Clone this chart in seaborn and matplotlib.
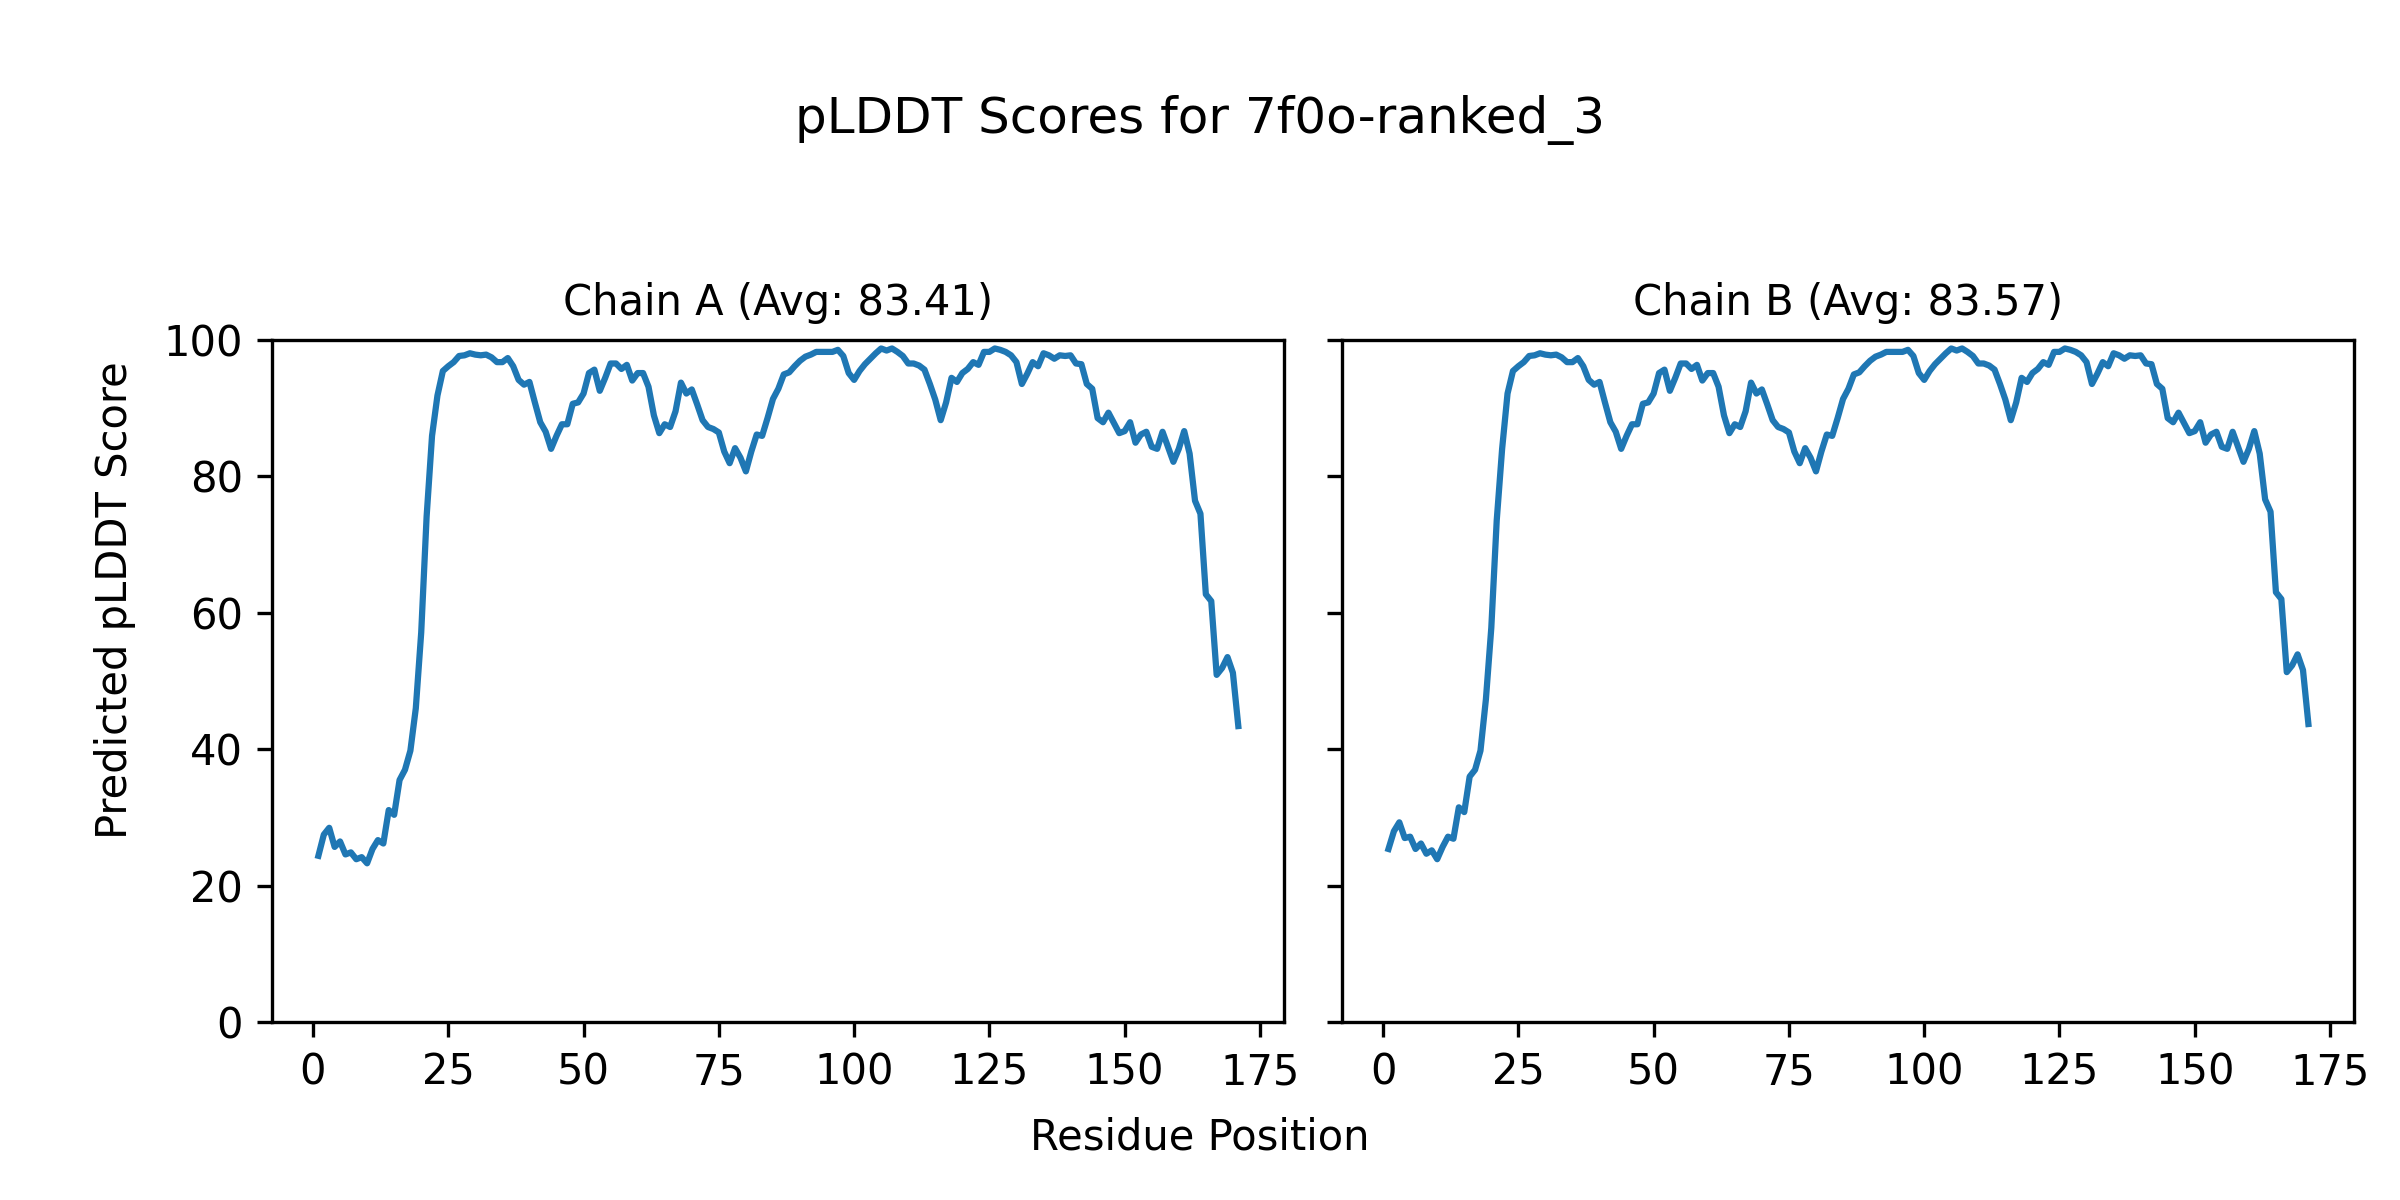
import matplotlib
matplotlib.use("Agg")
import matplotlib.pyplot as plt
import seaborn as sns
import pandas as pd
import numpy as np

residues = list(range(1, 172))

chain_a = [
    24.4, 27.5, 28.5, 25.7, 26.5, 24.6, 24.9, 23.9, 24.2, 23.3,
    25.4, 26.7, 26.2, 31.1, 30.4, 35.5, 37.0, 39.8, 46.0, 57.1,
    74.1, 85.9, 91.8, 95.4, 96.1, 96.7, 97.6, 97.7, 98.0, 97.8,
    97.7, 97.8, 97.4, 96.7, 96.7, 97.3, 96.1, 94.1, 93.4, 93.8,
    90.8, 87.9, 86.5, 84.0, 85.9, 87.6, 87.6, 90.6, 90.8, 92.1,
    95.1, 95.6, 92.5, 94.4, 96.5, 96.5, 95.7, 96.3, 94.0, 95.1,
    95.1, 93.1, 88.9, 86.3, 87.6, 87.2, 89.5, 93.7, 92.1, 92.7,
    90.5, 88.2, 87.2, 86.9, 86.4, 83.6, 81.9, 84.1, 82.7, 80.7,
    83.6, 86.1, 85.9, 88.5, 91.3, 92.8, 94.9, 95.2, 96.1, 96.9,
    97.5, 97.8, 98.2, 98.2, 98.2, 98.2, 98.5, 97.6, 95.1, 94.1,
    95.4, 96.4, 97.2, 98.0, 98.7, 98.4, 98.7, 98.2, 97.6, 96.5,
    96.5, 96.2, 95.6, 93.5, 91.2, 88.2, 90.8, 94.4, 93.8, 95.1,
    95.7, 96.7, 96.3, 98.2, 98.2, 98.7, 98.5, 98.2, 97.7, 96.7,
    93.5, 95.0, 96.7, 96.1, 98.0, 97.7, 97.2, 97.7, 97.6, 97.7,
    96.5, 96.4, 93.5, 92.8, 88.5, 87.9, 89.3, 87.8, 86.3, 86.6,
    87.9, 84.9, 86.1, 86.5, 84.3, 84.0, 86.5, 84.3, 82.1, 84.0,
    86.6, 83.3, 76.4, 74.5, 62.7, 61.7, 50.9, 51.9, 53.5, 51.2,
    43.4,
]

chain_b_start = [
    25.4, 28.0, 29.3, 27.0, 27.2, 25.4, 26.2, 24.7, 25.2, 23.9,
    25.7, 27.2, 26.9, 31.5, 30.8, 36.0, 37.0, 39.8, 47.3, 57.8,
    73.5, 84.0, 92.1,
]
chain_b_end = [
    76.6, 74.8, 63.0, 62.0, 51.3, 52.3, 53.9, 51.6, 43.7,
]
chain_b = chain_b_start + chain_a[23:162] + chain_b_end

panel_titles = ["Chain A (Avg: 83.41)", "Chain B (Avg: 83.57)"]
suptitle = "pLDDT Scores for 7f0o-ranked_3"
xlabel = "Residue Position"
ylabel = "Predicted pLDDT Score"

fig, axes = plt.subplots(1, 2, figsize=(8, 4), dpi=300, sharey=True)
for ax, vals, title in zip(axes, [chain_a, chain_b], panel_titles):
    df = pd.DataFrame({"Residue": residues, "pLDDT": vals})
    sns.lineplot(data=df, x="Residue", y="pLDDT", ax=ax, color="#1f77b4", linewidth=1.5)
    ax.set_title(title, fontsize=10)
    ax.set_xlabel("")
    ax.set_ylabel("")
    ax.set_ylim(0, 100)
    ax.set_xticks([0, 25, 50, 75, 100, 125, 150, 175])
    ax.tick_params(labelsize=10)

fig.subplots_adjust(left=0.1135, right=0.981, bottom=0.148, top=0.717, wspace=0.0575)
fig.suptitle(suptitle, fontsize=12, y=0.9, va="center")
fig.supxlabel(xlabel, fontsize=10, y=0.052, va="center")
fig.supylabel(ylabel, fontsize=10, x=0.048, ha="center")
fig.savefig("out.png", dpi=300)
